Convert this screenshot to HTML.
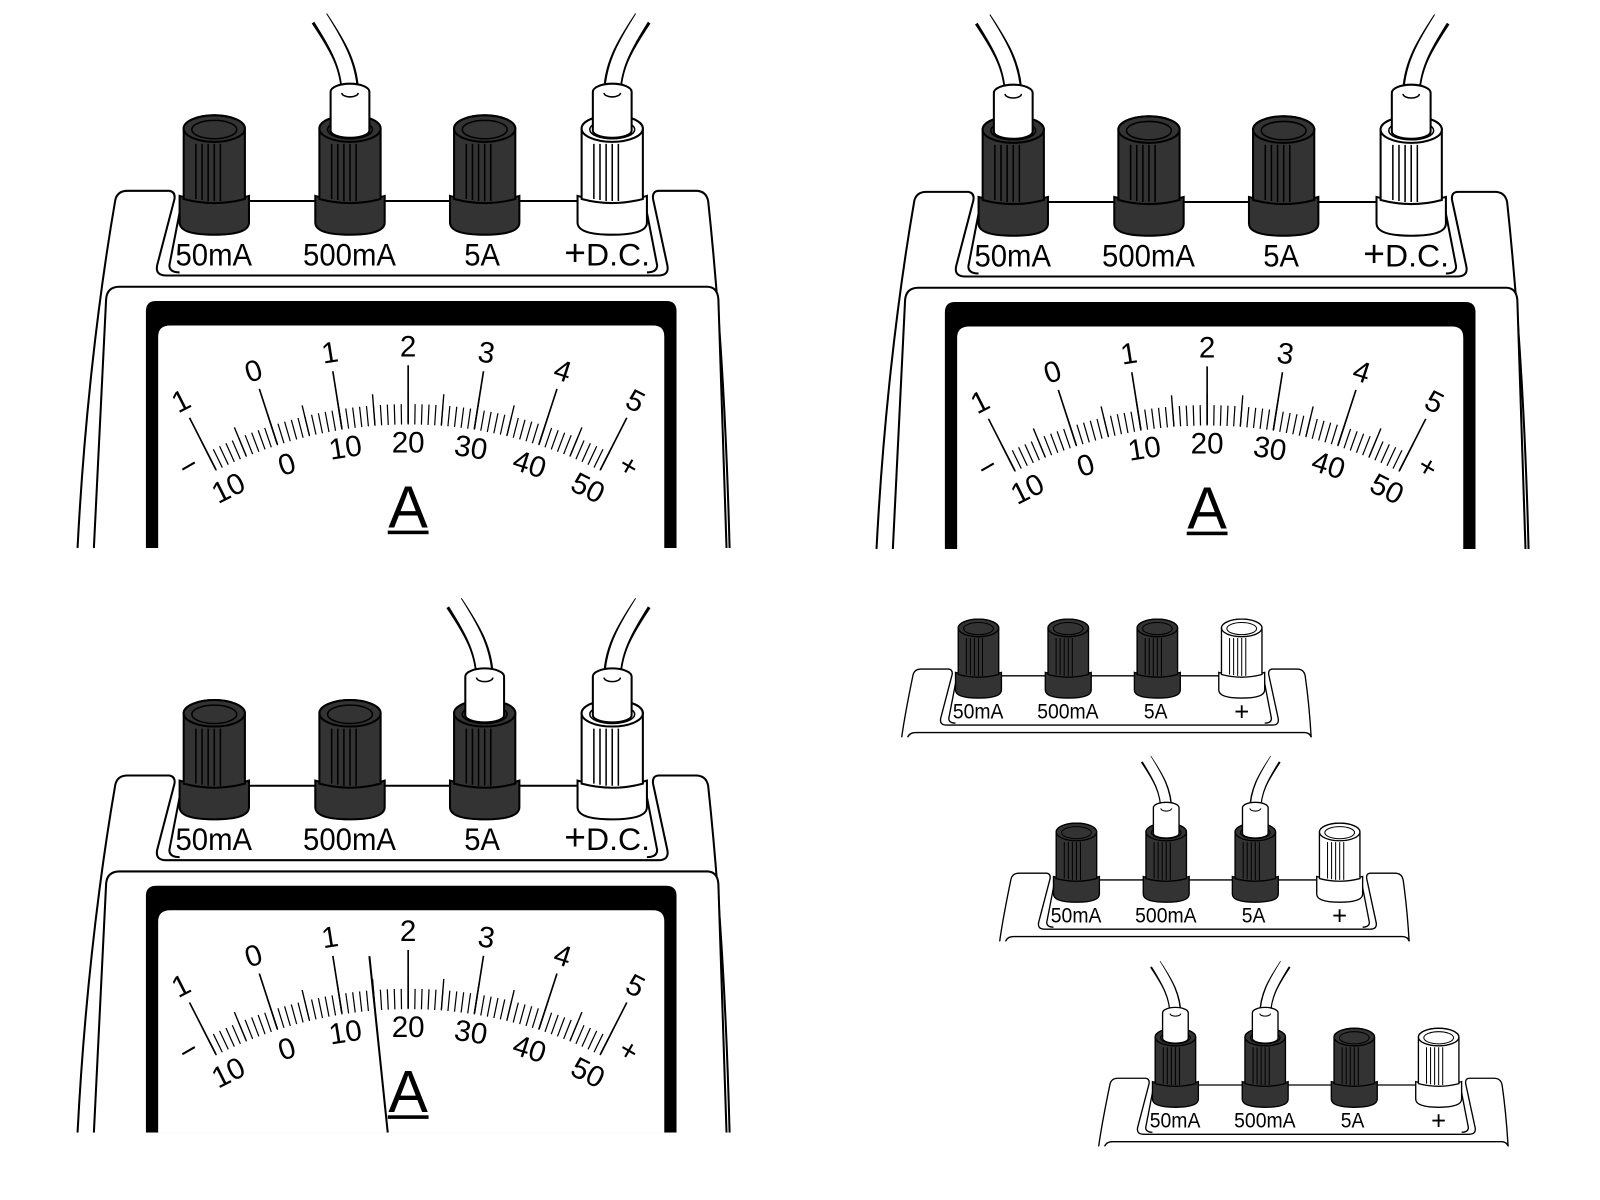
<!DOCTYPE html>
<html><head><meta charset="utf-8"><style>
html,body{margin:0;padding:0;background:#fff;width:1600px;height:1200px;overflow:hidden;}
svg{display:block;}
text{font-family:"Liberation Sans",sans-serif;fill:#000;}
</style></head><body>
<svg width="1600" height="1200" viewBox="0 0 1600 1200" xmlns="http://www.w3.org/2000/svg">
<defs>
<clipPath id="cb"><rect x="0" y="0" width="800" height="537"/></clipPath>
<clipPath id="cs"><rect x="0" y="0" width="800" height="288"/></clipPath>
<g id="body">
  <path d="M76,537 C82,420 95,300 113,196 Q115,187 125,187 L166,187 Q172,188 171,195 L154,260 Q152,270 163,270 L645,270 Q656,270 654,260 L640,195 Q639,187 646,187 L682,187 Q692,187 694,197 C705,300 712,420 715,537" fill="#fff" stroke="#000" stroke-width="2"/>
  <path d="M178,198 L166,260 Q166,267 176,267" fill="none" stroke="#000" stroke-width="2"/>
  <path d="M632,198 L644,260 Q644,267 634,267" fill="none" stroke="#000" stroke-width="2"/>
  <line x1="176" y1="197" x2="634" y2="197" stroke="#000" stroke-width="2"/>
  <path d="M92,537 L104,293 Q105,281 117,281 L693,281 Q703,281 704,293 L712,537" fill="#fff" stroke="#000" stroke-width="2"/>
</g>
<g id="sbody">
  <path d="M96,290 C100,260 106,230 113,196 Q115,187 125,187 L166,187 Q172,188 171,195 L154,260 Q152,270 163,270 L645,270 Q656,270 654,260 L640,195 Q639,187 646,187 L682,187 Q692,187 694,197 C698,225 701,255 703,290" fill="#fff" stroke="#000" stroke-width="2"/>
  <path d="M178,198 L166,260 Q166,267 176,267" fill="none" stroke="#000" stroke-width="2"/>
  <path d="M632,198 L644,260 Q644,267 634,267" fill="none" stroke="#000" stroke-width="2"/>
  <line x1="176" y1="197" x2="634" y2="197" stroke="#000" stroke-width="2"/>
  <path d="M104,290 L104,293 Q105,281 117,281 L693,281 Q703,281 704,293 L704,290" fill="#fff" stroke="#000" stroke-width="2"/>
</g>
<g id="term">
  <path d="M-34,192 L-34,218 Q-34,230 0,230 Q34,230 34,218 L34,192 Q0,202 -34,192 Z" stroke="#000" stroke-width="2"/>
  <path d="M-30,195 L-30,126 A30,13 0 0 1 30,126 L30,195 Q0,203 -30,195 Z" stroke="#000" stroke-width="2"/>
  <path d="M-18,141 V195 M-12,141 V196 M-6,141 V197 M0,141 V197 M6,141 V197" stroke="#000" stroke-width="1.5" fill="none"/>
  <ellipse cx="0" cy="126" rx="30" ry="13" stroke="#000" stroke-width="2"/>
  <ellipse cx="0" cy="127" rx="22" ry="9" stroke="#000" stroke-width="1.5"/>
</g>
<g id="plug">
  <path d="M-19,128 L-19,90 A19,8 0 0 1 19,90 L19,128 A19,7 0 0 1 -19,128 Z" fill="#fff" stroke="#000" stroke-width="2"/>
</g>
<g id="wireL">
  <path d="M0,94 C0,65 -12,45 -30,18" fill="none" stroke="#000" stroke-width="18"/>
  <path d="M0,96 C0,65 -12,45 -30,16" fill="none" stroke="#fff" stroke-width="14"/>
  <use href="#plug"/>
  <path d="M-8,91 A8,4 0 0 0 8,91" fill="none" stroke="#000" stroke-width="1.5"/>
</g>
<g id="wireR">
  <path d="M0,94 C0,65 12,45 30,18" fill="none" stroke="#000" stroke-width="18"/>
  <path d="M0,96 C0,65 12,45 30,16" fill="none" stroke="#fff" stroke-width="14"/>
  <use href="#plug"/>
  <path d="M-8,91 A8,4 0 0 0 8,91" fill="none" stroke="#000" stroke-width="1.5"/>
</g>
<g id="dial">
  <path d="M143,537 L143,305 Q143,295 153,295 L653,295 Q663,295 663,305 L663,537 Z" fill="#000"/>
  <path d="M155,537 L155,330 Q155,319 167,319 L640,319 Q651,319 651,330 L651,537 Z" fill="#fff"/>
  <path d="M204.58,453.72 A424,424 0 0 1 595.42,453.72" pathLength="61" fill="none" stroke="#000" stroke-width="20" stroke-dasharray="0.18 0.82" stroke-dashoffset="-0.41"/>
  <path d="M189.89,454.82 A430,430 0 0 1 610.11,454.82" pathLength="13" fill="none" stroke="#000" stroke-width="30" stroke-dasharray="0.04 0.96" stroke-dashoffset="-0.48"/>
  <path d="M211.59,460.23 L185.72,409.44 M271.76,435.31 L254.14,381.1 M335.08,420.11 L326.17,363.81 M400,415 L400,358 M464.92,420.11 L473.83,363.81 M528.24,435.31 L545.86,381.1 M588.41,460.23 L614.28,409.44" stroke="#000" stroke-width="1.6" fill="none"/>
  <rect x="380" y="520" width="40" height="3.5" fill="#000"/>
</g>
</defs>

<g transform="scale(1.0204)">
<!-- ===== Top-left meter ===== -->
<g clip-path="url(#cb)">
<use href="#body"/>
<use href="#term" x="210" fill="#333"/>
<use href="#term" x="343" fill="#333"/>
<use href="#term" x="475" fill="#333"/>
<use href="#term" x="600" fill="#fff"/>
<use href="#wireL" x="343"/>
<use href="#wireR" x="600"/>
<g font-size="31">
<text x="172" y="260" textLength="75" lengthAdjust="spacingAndGlyphs">50mA</text>
<text x="297" y="260" textLength="91" lengthAdjust="spacingAndGlyphs">500mA</text>
<text x="455" y="260" textLength="35" lengthAdjust="spacingAndGlyphs">5A</text>
<text x="553" y="260" textLength="84" lengthAdjust="spacingAndGlyphs"><tspan font-size="36">+</tspan>D.C.</text>
</g>
<use href="#dial"/>
<g font-size="29" text-anchor="middle" dominant-baseline="central">
<text transform="rotate(-27 177.5 393.4)" x="177.5" y="393.4">1</text>
<text transform="rotate(-18 248.6 364)" x="248.6" y="364">0</text>
<text transform="rotate(-9 323.3 346)" x="323.3" y="346">1</text>
<text x="400" y="340">2</text>
<text transform="rotate(9 476.7 346)" x="476.7" y="346">3</text>
<text transform="rotate(18 551.4 364)" x="551.4" y="364">4</text>
<text transform="rotate(27 622.5 393.4)" x="622.5" y="393.4">5</text>
<text transform="rotate(-26.6 224 478.6)" x="224" y="478.6">10</text>
<text transform="rotate(-17.6 281.2 455.4)" x="281.2" y="455.4">0</text>
<text transform="rotate(-9 338.5 439)" x="338.5" y="439">10</text>
<text x="400" y="434">20</text>
<text transform="rotate(9 461.5 439)" x="461.5" y="439">30</text>
<text transform="rotate(17.6 518.8 455.4)" x="518.8" y="455.4">40</text>
<text transform="rotate(26.6 576 478.6)" x="576" y="478.6">50</text>
<text transform="rotate(-30 185 457)" x="185" y="457">−</text>
<text transform="rotate(30 616 457)" x="616" y="457">+</text>
</g>
<text x="400" y="517" font-size="58" text-anchor="middle">A</text>
</g>

<!-- ===== Top-right meter ===== -->
<g transform="translate(783,1)">
<g clip-path="url(#cb)">
<use href="#body"/>
<use href="#term" x="210" fill="#333"/>
<use href="#term" x="343" fill="#333"/>
<use href="#term" x="475" fill="#333"/>
<use href="#term" x="600" fill="#fff"/>
<use href="#wireL" x="210"/>
<use href="#wireR" x="600"/>
<g font-size="31">
<text x="172" y="260" textLength="75" lengthAdjust="spacingAndGlyphs">50mA</text>
<text x="297" y="260" textLength="91" lengthAdjust="spacingAndGlyphs">500mA</text>
<text x="455" y="260" textLength="35" lengthAdjust="spacingAndGlyphs">5A</text>
<text x="553" y="260" textLength="84" lengthAdjust="spacingAndGlyphs"><tspan font-size="36">+</tspan>D.C.</text>
</g>
<use href="#dial"/>
<g font-size="29" text-anchor="middle" dominant-baseline="central">
<text transform="rotate(-27 177.5 393.4)" x="177.5" y="393.4">1</text>
<text transform="rotate(-18 248.6 364)" x="248.6" y="364">0</text>
<text transform="rotate(-9 323.3 346)" x="323.3" y="346">1</text>
<text x="400" y="340">2</text>
<text transform="rotate(9 476.7 346)" x="476.7" y="346">3</text>
<text transform="rotate(18 551.4 364)" x="551.4" y="364">4</text>
<text transform="rotate(27 622.5 393.4)" x="622.5" y="393.4">5</text>
<text transform="rotate(-26.6 224 478.6)" x="224" y="478.6">10</text>
<text transform="rotate(-17.6 281.2 455.4)" x="281.2" y="455.4">0</text>
<text transform="rotate(-9 338.5 439)" x="338.5" y="439">10</text>
<text x="400" y="434">20</text>
<text transform="rotate(9 461.5 439)" x="461.5" y="439">30</text>
<text transform="rotate(17.6 518.8 455.4)" x="518.8" y="455.4">40</text>
<text transform="rotate(26.6 576 478.6)" x="576" y="478.6">50</text>
<text transform="rotate(-30 185 457)" x="185" y="457">−</text>
<text transform="rotate(30 616 457)" x="616" y="457">+</text>
</g>
<text x="400" y="517" font-size="58" text-anchor="middle">A</text>
</g>
</g>

<!-- ===== Bottom-left meter ===== -->
<g transform="translate(0,573)">
<g clip-path="url(#cb)">
<use href="#body"/>
<use href="#term" x="210" fill="#333"/>
<use href="#term" x="343" fill="#333"/>
<use href="#term" x="475" fill="#333"/>
<use href="#term" x="600" fill="#fff"/>
<use href="#wireL" x="475"/>
<use href="#wireR" x="600"/>
<g font-size="31">
<text x="172" y="260" textLength="75" lengthAdjust="spacingAndGlyphs">50mA</text>
<text x="297" y="260" textLength="91" lengthAdjust="spacingAndGlyphs">500mA</text>
<text x="455" y="260" textLength="35" lengthAdjust="spacingAndGlyphs">5A</text>
<text x="553" y="260" textLength="84" lengthAdjust="spacingAndGlyphs"><tspan font-size="36">+</tspan>D.C.</text>
</g>
<use href="#dial"/>
<g font-size="29" text-anchor="middle" dominant-baseline="central">
<text transform="rotate(-27 177.5 393.4)" x="177.5" y="393.4">1</text>
<text transform="rotate(-18 248.6 364)" x="248.6" y="364">0</text>
<text transform="rotate(-9 323.3 346)" x="323.3" y="346">1</text>
<text x="400" y="340">2</text>
<text transform="rotate(9 476.7 346)" x="476.7" y="346">3</text>
<text transform="rotate(18 551.4 364)" x="551.4" y="364">4</text>
<text transform="rotate(27 622.5 393.4)" x="622.5" y="393.4">5</text>
<text transform="rotate(-26.6 224 478.6)" x="224" y="478.6">10</text>
<text transform="rotate(-17.6 281.2 455.4)" x="281.2" y="455.4">0</text>
<text transform="rotate(-9 338.5 439)" x="338.5" y="439">10</text>
<text x="400" y="434">20</text>
<text transform="rotate(9 461.5 439)" x="461.5" y="439">30</text>
<text transform="rotate(17.6 518.8 455.4)" x="518.8" y="455.4">40</text>
<text transform="rotate(26.6 576 478.6)" x="576" y="478.6">50</text>
<text transform="rotate(-30 185 457)" x="185" y="457">−</text>
<text transform="rotate(30 616 457)" x="616" y="457">+</text>
</g>
<text x="400" y="517" font-size="58" text-anchor="middle">A</text>
<line x1="362" y1="364" x2="380" y2="537" stroke="#000" stroke-width="2"/>
</g>
</g>

<!-- ===== Small panel 1 ===== -->
<g transform="translate(820,532) scale(0.6615)">
<g clip-path="url(#cs)">
<use href="#sbody"/>
<use href="#term" x="210" fill="#333"/>
<use href="#term" x="343" fill="#333"/>
<use href="#term" x="475" fill="#333"/>
<use href="#term" x="600" fill="#fff"/>
<g font-size="31">
<text x="172" y="260" textLength="75" lengthAdjust="spacingAndGlyphs">50mA</text>
<text x="297" y="260" textLength="91" lengthAdjust="spacingAndGlyphs">500mA</text>
<text x="455" y="260" textLength="35" lengthAdjust="spacingAndGlyphs">5A</text>
<text x="600" y="263" font-size="38" text-anchor="middle">+</text>
</g>
</g>
</g>

<!-- ===== Small panel 2 ===== -->
<g transform="translate(916,732) scale(0.6615)">
<g clip-path="url(#cs)">
<use href="#sbody"/>
<use href="#term" x="210" fill="#333"/>
<use href="#term" x="343" fill="#333"/>
<use href="#term" x="475" fill="#333"/>
<use href="#term" x="600" fill="#fff"/>
<use href="#wireL" x="343"/>
<use href="#wireR" x="475"/>
<g font-size="31">
<text x="172" y="260" textLength="75" lengthAdjust="spacingAndGlyphs">50mA</text>
<text x="297" y="260" textLength="91" lengthAdjust="spacingAndGlyphs">500mA</text>
<text x="455" y="260" textLength="35" lengthAdjust="spacingAndGlyphs">5A</text>
<text x="600" y="263" font-size="38" text-anchor="middle">+</text>
</g>
</g>
</g>

<!-- ===== Small panel 3 ===== -->
<g transform="translate(1013,933) scale(0.6615)">
<g clip-path="url(#cs)">
<use href="#sbody"/>
<use href="#term" x="210" fill="#333"/>
<use href="#term" x="343" fill="#333"/>
<use href="#term" x="475" fill="#333"/>
<use href="#term" x="600" fill="#fff"/>
<use href="#wireL" x="210"/>
<use href="#wireR" x="343"/>
<g font-size="31">
<text x="172" y="260" textLength="75" lengthAdjust="spacingAndGlyphs">50mA</text>
<text x="297" y="260" textLength="91" lengthAdjust="spacingAndGlyphs">500mA</text>
<text x="455" y="260" textLength="35" lengthAdjust="spacingAndGlyphs">5A</text>
<text x="600" y="263" font-size="38" text-anchor="middle">+</text>
</g>
</g>
</g>
</g>
</svg>
</body></html>
